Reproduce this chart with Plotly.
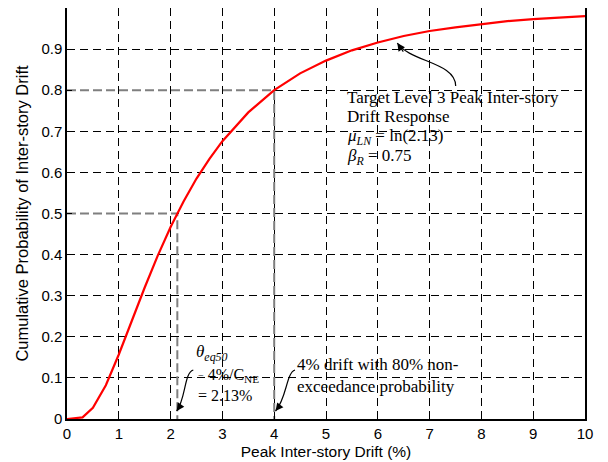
import plotly.graph_objects as go

# ---- data ----
drift_pct = [0, 0.1, 0.2, 0.3, 0.5, 0.75, 1.0, 1.25, 1.5, 1.75, 2.0, 2.25, 2.5, 2.75, 3.0,
             3.5, 4.0, 4.5, 5.0, 5.5, 6.0, 6.5, 7.0, 7.5, 8.0, 8.5, 9.0, 9.5, 10.0]
cum_prob = [0, 0.001, 0.002, 0.004, 0.027, 0.082, 0.157, 0.239, 0.320, 0.397, 0.467, 0.529,
            0.585, 0.633, 0.676, 0.746, 0.800, 0.841, 0.872, 0.897, 0.916, 0.932, 0.944,
            0.953, 0.961, 0.968, 0.973, 0.977, 0.980]
ref_drift = [2.13, 4.0]      # median drift, 80% non-exceedance drift
ref_prob = [0.5, 0.8]
x_ticks = list(range(0, 11))
y_ticks = [i / 10 for i in range(11)]
y_ticktext = ["0", "0.1", "0.2", "0.3", "0.4", "0.5", "0.6", "0.7", "0.8", "0.9", "1"]

# page body has an 8px default margin; compensate so plot area sits at
# page x 67..585, y 8..419
BODY = 8
W, H = 608 - BODY, 462 - BODY
ML, MR, MT, MB = 67 - BODY, 23, 0, 43
PX0, PX1, PY0, PY1 = 67, 585, 8, 419


def dx(px):
    return (px - PX0) / (PX1 - PX0) * 10.0


def dy(py):
    return (PY1 - py) / (PY1 - PY0)


fig = go.Figure()

GRAY = "#7f7f7f"
for xr, pr in zip(ref_drift, ref_prob):
    fig.add_trace(go.Scatter(x=[0, xr, xr], y=[pr, pr, 0], mode="lines",
                             line=dict(color=GRAY, width=2, dash="9px,4px"),
                             showlegend=False, hoverinfo="skip"))

fig.add_trace(go.Scatter(x=drift_pct, y=cum_prob, mode="lines",
                         line=dict(color="#ff0000", width=2.2),
                         showlegend=False))

SERIF = "Liberation Serif"
ann_font = dict(family=SERIF, size=17, color="black")


def bezier(p0, p1, p2, p3):
    pts = [p0, p1, p2, p3]
    s = "M {:.4f},{:.4f} C ".format(dx(pts[0][0]), dy(pts[0][1]))
    s += " ".join("{:.4f},{:.4f}".format(dx(p[0]), dy(p[1])) for p in pts[1:])
    return s


arrows = [
    ((455.7, 86), (455.7, 62), (410, 62), (397.3, 43), (9, 13)),
    ((193.3, 370), (184, 373), (186, 398), (176.7, 411), (6, -9)),
    ((295.0, 370), (286, 373), (287, 398), (275.5, 411), (7, -9)),
]
shapes = []
annotations = []
for p0, p1, p2, p3, (ax, ay) in arrows:
    shapes.append(dict(type="path", xref="x", yref="y", path=bezier(p0, p1, p2, p3),
                       line=dict(color="black", width=1.2)))
    annotations.append(dict(x=dx(p3[0]), y=dy(p3[1]), xref="x", yref="y", text=" ",
                            showarrow=True, ax=ax, ay=ay, arrowhead=2, arrowsize=1.3,
                            arrowwidth=1.2, arrowcolor="black", standoff=0))

# text blocks: (text, left px, centre py, font size)
text_lines = [
    ("Target Level 3 Peak Inter-story", 345, 97, 17),
    ("Drift Response", 345, 116, 17),
    ("<i>μ<sub>LN</sub></i> = ln(2.13)", 345, 137, 17),
    ("<i>β<sub>R</sub></i> = 0.75", 345, 157, 17),
    ("<i>θ<sub>eq50</sub></i>", 194, 353, 17),
    ("<span style='font-size:10px'>=</span> 4%/C<sub>NE</sub><br>= 2.13%", 196, 385, 16),
    ("4% drift with 80% non-<br>exceedance probability", 295, 375, 17),
]
for txt, lx, cy, fs in text_lines:
    annotations.append(dict(x=dx(lx), y=dy(cy), xref="x", yref="y", xanchor="left",
                            yanchor="middle", align="left", showarrow=False,
                            font=dict(family=SERIF, size=fs, color="black"), text=txt))

axis_common = dict(showgrid=True, gridcolor="black", gridwidth=1, griddash="8px,5px",
                   showline=True, linecolor="black", linewidth=1.5, mirror=True,
                   ticks="inside", ticklen=5, tickcolor="black", zeroline=False,
                   automargin=False,
                   tickfont=dict(family="Liberation Sans", size=15, color="black"))

fig.update_layout(
    width=W, height=H,
    margin=dict(l=ML, r=MR, t=MT, b=MB),
    paper_bgcolor="white", plot_bgcolor="white",
    xaxis=dict(range=[0, 10], tickvals=x_ticks,
               title=dict(text="Peak Inter-story Drift (%)", standoff=5,
                          font=dict(family="Liberation Sans", size=15.5, color="black")),
               **axis_common),
    yaxis=dict(range=[0, 1], tickvals=y_ticks, ticktext=y_ticktext,
               title=dict(text="Cumulative Probability of Inter-story Drift", standoff=9,
                          font=dict(family="Liberation Sans", size=16.5, color="black")),
               **axis_common),
    shapes=shapes,
    annotations=annotations,
)

fig.write_html("out.html")
